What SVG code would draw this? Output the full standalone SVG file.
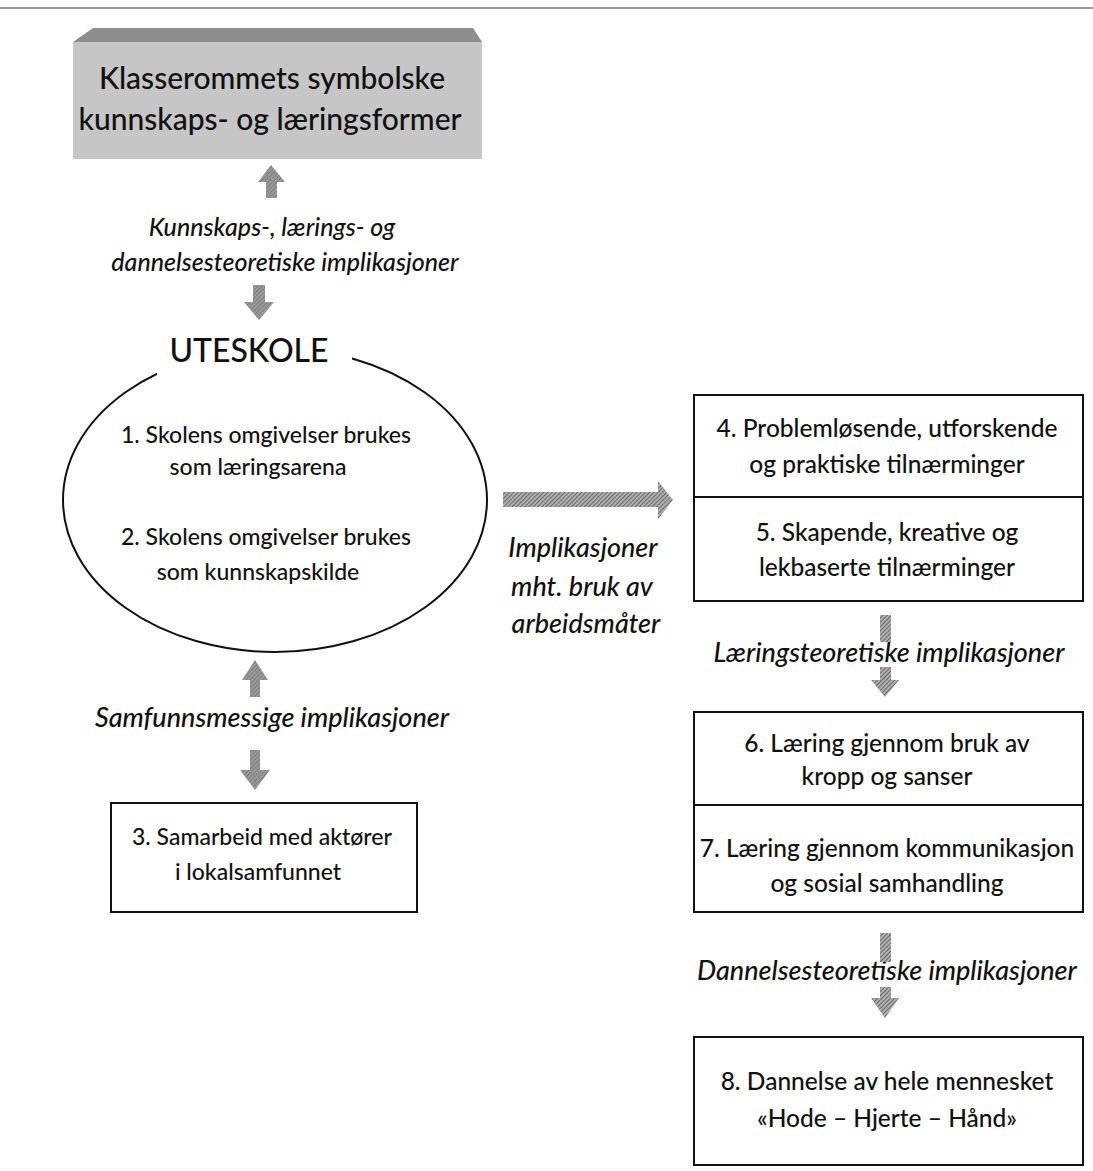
<svg xmlns="http://www.w3.org/2000/svg" width="1093" height="1171" viewBox="0 0 1093 1171">
<style>
  .t { font-family: Lato, "Open Sans", sans-serif; fill: #111; text-anchor: middle; font-weight: 500; }
  .title { font-size: 30px; }
  .big { font-size: 32px; }
  .body { font-size: 24.5px; }
  .body2 { font-size: 23px; }
  .it { font-size: 27px; font-style: italic; }
  .it2 { font-size: 25px; font-style: italic; }
  .box { fill: #fff; stroke: #111; stroke-width: 2; }
  .arr { fill: url(#hatchLight); stroke: none; }
  .arrD { fill: url(#hatchDark); stroke: none; }
</style>
<defs>
  <pattern id="hatchLight" width="3" height="3" patternUnits="userSpaceOnUse" patternTransform="rotate(45)">
    <rect width="3" height="3" fill="#9a9a9a"/>
    <line x1="0" y1="0" x2="0" y2="3" stroke="#6a6a6a" stroke-width="1.2"/>
  </pattern>
  <pattern id="hatchDark" width="3" height="3" patternUnits="userSpaceOnUse" patternTransform="rotate(45)">
    <rect width="3" height="3" fill="#b0b0b0"/>
    <line x1="0" y1="0" x2="0" y2="3" stroke="#4a4a4a" stroke-width="1.4"/>
  </pattern>
</defs>
<rect width="1093" height="1171" fill="#fff"/>
<line x1="0" y1="8" x2="1093" y2="8" stroke="#777" stroke-width="1.5"/>

<g id="node-klasserom">
  <polygon points="93,28 473,28 482,42 73,42" fill="#8e8e8e"/>
  <rect x="73" y="42" width="409" height="117" fill="#c6c6c6"/>
  <text class="t title" x="272" y="89">Klasserommets symbolske</text>
  <text class="t title" x="270" y="130">kunnskaps- og læringsformer</text>
</g>

<g id="label-kunnskap">
  <text class="t it2" x="272" y="236">Kunnskaps-, lærings- og</text>
  <text class="t it2" x="285" y="271">dannelsesteoretiske implikasjoner</text>
</g>

<g id="node-uteskole">
  <ellipse cx="275" cy="500" rx="212" ry="152" fill="none" stroke="#111" stroke-width="2"/>
  <rect x="157" y="320" width="195" height="57" fill="#fff"/>
  <text class="t big" x="249" y="362">UTESKOLE</text>
  <text class="t body2" x="266" y="443">1. Skolens omgivelser brukes</text>
  <text class="t body2" x="258" y="475">som læringsarena</text>
  <text class="t body2" x="266" y="545">2. Skolens omgivelser brukes</text>
  <text class="t body2" x="258" y="580">som kunnskapskilde</text>
</g>

<g id="label-samfunn">
  <text class="t it" x="272" y="727">Samfunnsmessige implikasjoner</text>
</g>

<g id="node-3">
  <rect class="box" x="111" y="803" width="306" height="109"/>
  <text class="t body2" x="262" y="845">3. Samarbeid med aktører</text>
  <text class="t body2" x="258" y="880">i lokalsamfunnet</text>
</g>

<g id="label-arbeid">
  <text class="t it" x="583" y="557">Implikasjoner</text>
  <text class="t it" x="582" y="596">mht. bruk av</text>
  <text class="t it" x="586" y="633">arbeidsmåter</text>
</g>

<g id="node-4-5">
  <rect class="box" x="694" y="395" width="389" height="206"/>
  <line x1="694" y1="497" x2="1083" y2="497" stroke="#111" stroke-width="2"/>
  <text class="t body" x="887" y="437">4. Problemløsende, utforskende</text>
  <text class="t body" x="887" y="473">og praktiske tilnærminger</text>
  <text class="t body" x="887" y="541">5. Skapende, kreative og</text>
  <text class="t body" x="887" y="576">lekbaserte tilnærminger</text>
</g>

<g id="label-laering">
  <text class="t it" x="889" y="662">Læringsteoretiske implikasjoner</text>
</g>

<g id="node-6-7">
  <rect class="box" x="694" y="712" width="389" height="200"/>
  <line x1="694" y1="805" x2="1083" y2="805" stroke="#111" stroke-width="2"/>
  <text class="t body" x="887" y="752">6. Læring gjennom bruk av</text>
  <text class="t body" x="887" y="785">kropp og sanser</text>
  <text class="t body" x="887" y="857">7. Læring gjennom kommunikasjon</text>
  <text class="t body" x="887" y="892">og sosial samhandling</text>
</g>

<g id="label-dannelse">
  <text class="t it" x="887" y="980">Dannelsesteoretiske implikasjoner</text>
</g>

<g id="node-8">
  <rect class="box" x="694" y="1037" width="389" height="128"/>
  <text class="t body" x="887" y="1090">8. Dannelse av hele mennesket</text>
  <text class="t body" x="887" y="1127">«Hode – Hjerte – Hånd»</text>
</g>

<g id="connectors">
  <polygon class="arr" points="271,165 285,182 277,182 277,198 266,198 266,182 258,182"/>
  <polygon class="arr" points="253,285 265,285 265,302 274,302 259,320 244,302 253,302"/>
  <polygon class="arr" points="255,660 268,680 260,680 260,697 250,697 250,680 242,680"/>
  <polygon class="arr" points="250,750 260,750 260,770 270,770 255,790 240,770 250,770"/>
  <polygon class="arrD" points="503,492 658,492 658,481 673,500 658,519 658,507 503,507"/>
  <rect class="arrD" x="880" y="615" width="11" height="27"/>
  <polygon class="arrD" points="880,667 891,667 891,680 899,680 885,697 871,680 880,680"/>
  <rect class="arrD" x="880" y="933" width="11" height="29"/>
  <polygon class="arrD" points="880,987 891,987 891,998 899,998 885,1018 871,998 880,998"/>
</g>
</svg>
